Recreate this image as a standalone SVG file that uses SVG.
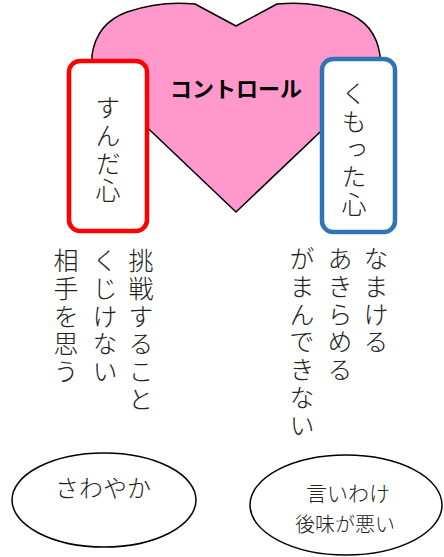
<svg xmlns="http://www.w3.org/2000/svg" width="444" height="557" viewBox="0 0 444 557">
<style>
text{font-family:"Noto Sans CJK JP","Noto Sans",sans-serif;fill:#222;}
.v{writing-mode:vertical-rl;font-size:25px;letter-spacing:2.8px;font-weight:300;}
.h{font-size:24px;font-weight:300;text-anchor:middle;}
.box{fill:#fff;stroke-width:4.5;}
.ell{fill:#fff;stroke:#000;stroke-width:1.5;}
</style>
<g id="heart">
<path d="M236,212 L92,75 L92,55 C95,35 105,20 127,12 C150,4 175,2 195,4 L236,26 L277,4 C297,2 322,4 345,12 C367,20 377,35 380,55 L380,75 Z" fill="#FF99CC" stroke="#000" stroke-width="1.5" stroke-linejoin="round"/>
<text x="236" y="97" text-anchor="middle" font-size="22" font-weight="bold" style="fill:#000">コントロール</text>
</g>
<g id="sunda">
<rect class="box" x="69" y="61" width="78" height="170" rx="11" stroke="#FF0000"/>
<text class="v" x="108" y="95">すんだ心</text>
</g>
<g id="kumotta">
<rect class="box" x="322" y="59" width="73" height="173" rx="11" stroke="#2E75B6"/>
<text class="v" x="354" y="81">くもった心</text>
</g>
<g id="left-text">
<text class="v" x="141" y="248">挑戦すること</text>
<text class="v" x="105" y="248">くじけない</text>
<text class="v" x="66" y="248">相手を思う</text>
</g>
<g id="right-text">
<text class="v" x="376" y="246">なまける</text>
<text class="v" x="340" y="246">あきらめる</text>
<text class="v" x="302" y="246">がまんできない</text>
</g>
<g id="sawayaka">
<ellipse class="ell" cx="104" cy="500" rx="92" ry="47"/>
<text class="h" x="103" y="497">さわやか</text>
</g>
<g id="iiwake">
<ellipse class="ell" cx="346" cy="505" rx="96" ry="50"/>
<text class="h" x="348" y="501" style="font-size:21px">言いわけ</text>
<text class="h" x="345" y="532" style="font-size:20px">後味が悪い</text>
</g>
<g id="connectors"></g>
</svg>
